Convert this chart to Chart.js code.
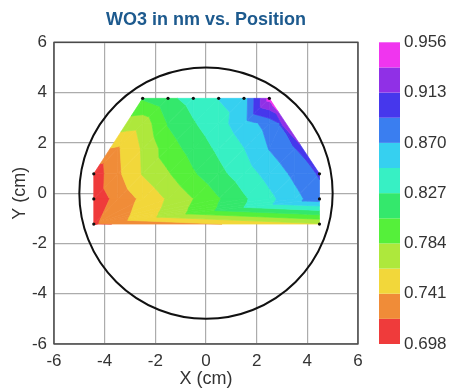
<!DOCTYPE html>
<html><head><meta charset="utf-8">
<script src="https://cdn.jsdelivr.net/npm/chart.js@4"></script>
<style>html,body{margin:0;padding:0;background:#fff}canvas{display:block}</style>
</head><body>
<canvas id="c" width="452" height="390"></canvas>
<script>
// ---- data: measurement rows (y in cm), x positions (cm) and WO3 thickness (nm) ----
const rowY = [3.77, 2.77, 1.77, 0.77, -0.23, -1.23];
const xRow1 = [-2.5, -1.5, -0.5, 0.5, 1.5, 2.5];
const vRow1 = [0.808, 0.822, 0.835, 0.849, 0.858, 0.943];
const xRow2 = [-2.5, -1.5, -0.5, 0.5, 1.5, 2.5, 2.95];
const vRow2 = [0.771, 0.807, 0.825, 0.841, 0.860, 0.878, 0.893];
const xRow3 = [-3.5, -2.5, -1.5, -0.5, 0.5, 1.5, 2.5, 3.5];
const vRow3 = [0.738, 0.765, 0.795, 0.814, 0.831, 0.848, 0.871, 0.889];
const xRow4 = [-4.43, -3.48, -2.5, -1.5, -0.5, 0.5, 1.5, 2.5, 3.5, 4.48];
const vRow4 = [0.706, 0.737, 0.764, 0.782, 0.803, 0.821, 0.838, 0.856, 0.875, 0.894];
const xRow5 = [-4.43, -3.48, -2.5, -1.5, -0.5, 0.5, 1.5, 2.5, 3.5, 4.48];
const vRow5 = [0.707, 0.726, 0.746, 0.765, 0.784, 0.804, 0.824, 0.843, 0.863, 0.883];
const xRow6 = [-4.43, 4.48];
const vRow6 = [0.716, 0.760];

const levels = [0.698, 0.7195, 0.741, 0.7625, 0.784, 0.8055, 0.827, 0.8485, 0.870, 0.8915, 0.913, 0.9345, 0.956];
const bandColors = ['#ef3b3b', '#f08c38', '#f2d73a', '#aee83c', '#55f03a', '#34e86c',
                    '#37f0c4', '#36d0f0', '#3a7ef0', '#4637ec', '#9030e6', '#f035ef'];
const colorTicks = [0.698, 0.741, 0.784, 0.827, 0.870, 0.913, 0.956];
const xTicks = [-6, -4, -2, 0, 2, 4, 6];
const yTicks = [-6, -4, -2, 0, 2, 4, 6];
const waferRadius = 5;

// ---- build point rows ----
const rowXs = [xRow1, xRow2, xRow3, xRow4, xRow5, xRow6];
const rowVs = [vRow1, vRow2, vRow3, vRow4, vRow5, vRow6];
const rows = rowY.map((y, r) => rowXs[r].map((x, i) => ({x, y, v: rowVs[r][i]})));
const allPts = rows.flat();

// ---- triangulation: zipper between neighbouring rows + hull gap fill ----
const tris = [];
function zipper(top, bot) {
  let i = 0, j = 0;
  while (i < top.length - 1 || j < bot.length - 1) {
    let advTop;
    if (j === bot.length - 1) advTop = true;
    else if (i === top.length - 1) advTop = false;
    else advTop = top[i + 1].x <= bot[j + 1].x;
    if (advTop) { tris.push([top[i], top[i + 1], bot[j]]); i++; }
    else { tris.push([top[i], bot[j], bot[j + 1]]); j++; }
  }
}
for (let r = 0; r < rows.length - 1; r++) zipper(rows[r], rows[r + 1]);
function cross(a, b, c) { return (b.x - a.x) * (c.y - a.y) - (b.y - a.y) * (c.x - a.x); }
function fillSide(chain, sign) {
  const st = [];
  for (const p of chain) {
    while (st.length >= 2 && sign * cross(st[st.length - 2], st[st.length - 1], p) > 1e-9) {
      tris.push([st[st.length - 2], st[st.length - 1], p]);
      st.pop();
    }
    st.push(p);
  }
}
fillSide(rows.map(r => r[0]), -1);
fillSide(rows.map(r => r[r.length - 1]), 1);

// measurement sites drawn as dots: outer rows and outer columns
const minX = Math.min(...allPts.map(p => p.x)), maxX = Math.max(...allPts.map(p => p.x));
const minY = Math.min(...rowY), maxY = Math.max(...rowY);
const dotPts = allPts.filter(p => p.x === minX || p.x === maxX || p.y === minY || p.y === maxY)
                     .map(p => ({x: p.x, y: p.y}));

function clip(poly, lvl, keepAbove) {
  const out = [];
  for (let i = 0; i < poly.length; i++) {
    const p = poly[i], q = poly[(i + 1) % poly.length];
    const pin = keepAbove ? p.v >= lvl : p.v <= lvl;
    const qin = keepAbove ? q.v >= lvl : q.v <= lvl;
    if (pin) out.push(p);
    if (pin !== qin) {
      const t = (lvl - p.v) / (q.v - p.v);
      out.push({x: p.x + t * (q.x - p.x), y: p.y + t * (q.y - p.y), v: lvl});
    }
  }
  return out;
}

const FONT = 'Liberation Sans, Arial, sans-serif';

const contourPlugin = {
  id: 'contour',
  beforeDatasetsDraw(chart) {
    const {ctx, chartArea: a} = chart;
    const sx = chart.scales.x, sy = chart.scales.y, sc = chart.scales.y2;
    ctx.save();
    ctx.lineJoin = 'round';
    const nb = bandColors.length;
    for (const t of tris) {
      for (let k = 0; k < nb; k++) {
        let poly = t;
        if (k > 0) poly = clip(poly, levels[k], true);
        if (poly.length < 3) continue;
        if (k < nb - 1) poly = clip(poly, levels[k + 1], false);
        if (poly.length < 3) continue;
        ctx.beginPath();
        poly.forEach((p, i) => {
          const px = sx.getPixelForValue(p.x), py = sy.getPixelForValue(p.y);
          if (i === 0) ctx.moveTo(px, py); else ctx.lineTo(px, py);
        });
        ctx.closePath();
        ctx.fillStyle = bandColors[k];
        ctx.strokeStyle = bandColors[k];
        ctx.lineWidth = 0.7;
        ctx.fill();
        ctx.stroke();
      }
    }
    // wafer outline
    const cx = sx.getPixelForValue(0), cy = sy.getPixelForValue(0);
    const rx = Math.abs(sx.getPixelForValue(waferRadius) - cx);
    const ry = Math.abs(sy.getPixelForValue(waferRadius) - cy);
    ctx.beginPath();
    ctx.ellipse(cx, cy, rx, ry, 0, 0, Math.PI * 2);
    ctx.strokeStyle = '#111';
    ctx.lineWidth = 2;
    ctx.stroke();
    // frame
    ctx.strokeStyle = '#4a4a4a';
    ctx.lineWidth = 1.5;
    ctx.strokeRect(a.left, a.top, a.right - a.left, a.bottom - a.top);
    // colour bar
    const bx = a.right + 21, bw = 21;
    for (let k = 0; k < nb; k++) {
      const y0 = sc.getPixelForValue(levels[k + 1]);
      const y1 = sc.getPixelForValue(levels[k]);
      ctx.fillStyle = bandColors[k];
      ctx.fillRect(bx, y0, bw, y1 - y0);
    }
    ctx.fillStyle = '#333';
    ctx.font = '17px ' + FONT;
    ctx.textAlign = 'left';
    ctx.textBaseline = 'middle';
    for (const v of colorTicks) {
      ctx.fillText(v.toFixed(3), a.right + 46, sc.getPixelForValue(v));
    }
    ctx.restore();
  }
};

new Chart(document.getElementById('c'), {
  type: 'scatter',
  data: {
    datasets: [{
      data: dotPts,
      pointRadius: 1.6,
      pointBackgroundColor: '#111',
      pointBorderWidth: 0,
      showLine: false
    }]
  },
  options: {
    responsive: false,
    animation: false,
    devicePixelRatio: 1,
    layout: {padding: 0},
    plugins: {
      legend: {display: false},
      tooltip: {enabled: false},
      title: {
        display: true,
        text: 'WO3 in nm vs. Position',
        fullSize: false,
        color: '#1d5a8e',
        font: {size: 18, weight: 'bold', family: FONT},
        padding: {top: 9, bottom: 11.7}
      }
    },
    scales: {
      x: {
        type: 'linear', position: 'bottom', min: -6, max: 6,
        afterBuildTicks: s => { s.ticks = xTicks.map(v => ({value: v})); },
        afterFit: s => { s.height = 46; },
        grid: {color: '#acacac', lineWidth: 1.2, drawTicks: false},
        border: {display: false},
        ticks: {color: '#333', font: {size: 17, family: FONT}, padding: 7, maxRotation: 0, autoSkip: false},
        title: {display: true, text: 'X (cm)', color: '#333', font: {size: 18, family: FONT}, padding: {top: 0, bottom: 0}}
      },
      y: {
        type: 'linear', position: 'left', min: -6, max: 6,
        afterBuildTicks: s => { s.ticks = yTicks.map(v => ({value: v})); },
        afterFit: s => { s.width = 54; },
        grid: {color: '#acacac', lineWidth: 1.2, drawTicks: false},
        border: {display: false},
        ticks: {color: '#333', font: {size: 17, family: FONT}, padding: 7, autoSkip: false},
        title: {display: true, text: 'Y (cm)', color: '#333', font: {size: 18, family: FONT}, padding: {top: 9, bottom: 0}}
      },
      y2: {
        type: 'linear', position: 'right', min: levels[0], max: levels[levels.length - 1],
        afterBuildTicks: s => { s.ticks = colorTicks.map(v => ({value: v})); },
        afterFit: s => { s.width = 94; },
        grid: {display: false, drawTicks: false},
        border: {display: false},
        ticks: {display: false}
      }
    }
  },
  plugins: [contourPlugin]
});
</script>
</body></html>
